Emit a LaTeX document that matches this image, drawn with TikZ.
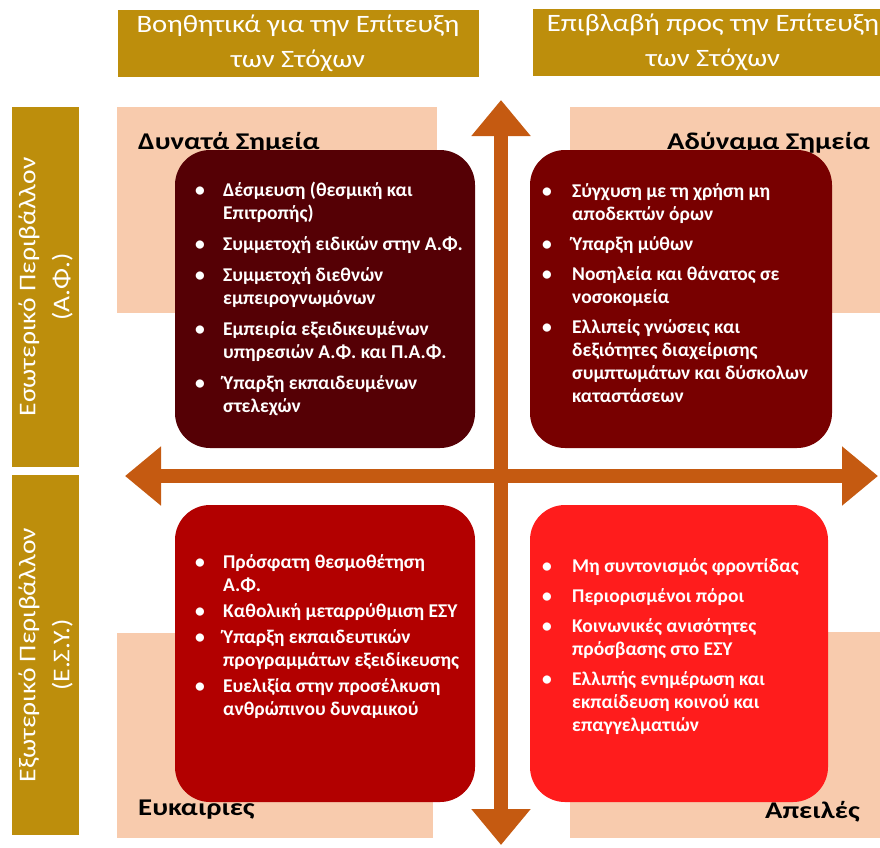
\documentclass[tikz,border=0pt]{standalone}
\usepackage{fontspec}
\setmainfont{Carlito}
\newfontfamily\hdrfont[FakeStretch=1.15]{Carlito}
\usepackage{tikz}
\usetikzlibrary{arrows.meta, positioning}
\definecolor{swotgold}{RGB}{189,142,12}
\definecolor{swotpeach}{RGB}{248,203,173}
\definecolor{axisorange}{RGB}{197,90,17}
\definecolor{strdark}{RGB}{85,0,5}
\definecolor{weakdark}{RGB}{120,0,0}
\definecolor{oppred}{RGB}{178,0,0}
\definecolor{thrred}{RGB}{255,28,28}
\newcommand{\widetitle}[1]{\scalebox{1.2}[1]{#1}}

\begin{document}
\begin{tikzpicture}[
  x=1pt, y=-1pt,
  header/.style={
    rectangle, fill=swotgold, text=white,
    minimum height=67pt, inner sep=0pt,
    align=center, font=\hdrfont\fontsize{25}{35}\selectfont,
  },
  sidebar/.style={
    rectangle, fill=swotgold, text=white, rotate=90,
    minimum width=360pt, minimum height=67pt, inner sep=0pt,
    align=center, font=\hdrfont\fontsize{24}{34}\selectfont,
  },
  peachbox/.style={rectangle, fill=swotpeach, inner sep=0pt},
  swotbox/.style={
    rectangle, rounded corners=35pt, inner sep=0pt,
    minimum width=300pt, minimum height=298pt,
  },
  listtext/.style={
    anchor=base west, inner sep=0pt, text=white,
    font=\fontsize{19.5}{23}\selectfont\bfseries,
  },
  title/.style={inner sep=0pt, font=\fontsize{24}{28}\selectfont\bfseries},
  axis/.style={
    line width=14pt, draw=axisorange,
    {Triangle[width=57pt,length=36pt]}-{Triangle[width=57pt,length=36pt]},
  },
]
\useasboundingbox (0,0) rectangle (880,847);

% ── Column headers
\node[header, minimum width=361pt] (helpHdr) at (298,43.5)
  {Βοηθητικά για την Επίτευξη\\των Στόχων};
\node[header, minimum width=360pt] (harmHdr) at (713,42)
  {Επιβλαβή προς την Επίτευξη\\των Στόχων};

% ── Row headers
\node[sidebar] (intSide) at (45.5,287) {Εσωτερικό Περιβάλλον\\(Α.Φ.)};
\node[sidebar] (extSide) at (45.5,655) {Εξωτερικό Περιβάλλον\\(Ε.Σ.Υ.)};

% ── Peach backgrounds
\node[peachbox, minimum width=320pt, minimum height=206pt] (strBg) at (277,210) {};
\node[peachbox, minimum width=315pt, minimum height=206pt] (weakBg) at (727.5,210) {};
\node[peachbox, minimum width=316pt, minimum height=205pt] (oppBg) at (275,735.5) {};
\node[peachbox, minimum width=315pt, minimum height=206pt] (thrBg) at (727.5,735) {};

\node[title, anchor=base west] (strTitle) at (138,149) {\widetitle{Δυνατά Σημεία}};
\node[title, anchor=base east] (weakTitle) at (870,149) {\widetitle{Αδύναμα Σημεία}};
\node[title, anchor=base west] (oppTitle) at (138,815) {\widetitle{Ευκαιρίες}};
\node[title, anchor=base east] (thrTitle) at (860,818) {\widetitle{Απειλές}};

% ── Quadrant boxes
\node[swotbox, fill=strdark] (strBox) at (325,299) {};
\node[swotbox, fill=weakdark, minimum width=302pt] (weakBox) at (681,299) {};
\node[swotbox, fill=oppred, minimum height=297pt] (oppBox) at (325,653.5) {};
\node[swotbox, fill=thrred, minimum width=298pt, minimum height=297pt] (thrBox) at (679,653.5) {};

% ── Lists
\node[listtext] (strList) at (195,196) {%
  \begin{tabular}[t]{@{}p{28pt}@{}l@{}}
  \textbullet & Δέσμευση (θεσμική και\\
              & Επιτροπής)\\[8pt]
  \textbullet & Συμμετοχή ειδικών στην Α.Φ.\\[8pt]
  \textbullet & Συμμετοχή διεθνών\\
              & εμπειρογνωμόνων\\[8pt]
  \textbullet & Εμπειρία εξειδικευμένων\\
              & υπηρεσιών Α.Φ. και Π.Α.Φ.\\[8pt]
  \textbullet & Ύπαρξη εκπαιδευμένων\\
              & στελεχών
  \end{tabular}};

\node[listtext] (weakList) at (542,197) {%
  \begin{tabular}[t]{@{}p{30pt}@{}l@{}}
  \textbullet & Σύγχυση με τη χρήση μη\\
              & αποδεκτών όρων\\[7pt]
  \textbullet & Ύπαρξη μύθων\\[7pt]
  \textbullet & Νοσηλεία και θάνατος σε\\
              & νοσοκομεία\\[7pt]
  \textbullet & Ελλιπείς γνώσεις και\\
              & δεξιότητες διαχείρισης\\
              & συμπτωμάτων και δύσκολων\\
              & καταστάσεων
  \end{tabular}};

\node[listtext] (oppList) at (195,568) {%
  \begin{tabular}[t]{@{}p{28pt}@{}l@{}}
  \textbullet & Πρόσφατη θεσμοθέτηση\\
              & Α.Φ.\\[3pt]
  \textbullet & Καθολική μεταρρύθμιση ΕΣΥ\\[3pt]
  \textbullet & Ύπαρξη εκπαιδευτικών\\
              & προγραμμάτων εξειδίκευσης\\[3pt]
  \textbullet & Ευελιξία στην προσέλκυση\\
              & ανθρώπινου δυναμικού
  \end{tabular}};

\node[listtext] (thrList) at (542,572) {%
  \begin{tabular}[t]{@{}p{30pt}@{}l@{}}
  \textbullet & Μη συντονισμός φροντίδας\\[7pt]
  \textbullet & Περιορισμένοι πόροι\\[7pt]
  \textbullet & Κοινωνικές ανισότητες\\
              & πρόσβασης στο ΕΣΥ\\[7pt]
  \textbullet & Ελλιπής ενημέρωση και\\
              & εκπαίδευση κοινού και\\
              & επαγγελματιών
  \end{tabular}};

% ── Axes
\coordinate (axisW) at (125,476);
\coordinate (axisE) at (878,476);
\coordinate (axisN) at (501,100);
\coordinate (axisS) at (501,845);
\draw[axis] (axisW) -- (axisE);
\draw[axis] (axisS) -- (axisN);

\end{tikzpicture}
\end{document}
